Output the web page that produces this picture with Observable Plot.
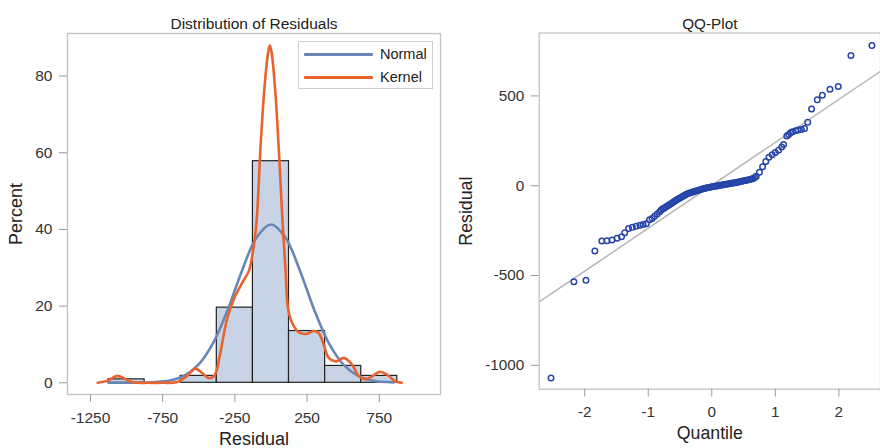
<!DOCTYPE html>
<html><head><meta charset="utf-8">
<script src="https://cdn.jsdelivr.net/npm/d3@7"></script>
<script src="https://cdn.jsdelivr.net/npm/@observablehq/plot@0.6"></script>
<style>
body{margin:0;background:#fff;}
#wrap{position:relative;width:880px;height:448px;overflow:hidden;background:#fff;font-family:"Liberation Sans",Arial,sans-serif;}
#left{position:absolute;left:0;top:0;}
#right{position:absolute;left:440px;top:0;}
#legend{position:absolute;left:298px;top:41px;width:135px;height:48px;border:1px solid #cfcfcf;background:#fff;box-sizing:border-box;}
#legend .sw{position:absolute;left:5px;width:69px;height:3px;border-radius:1px;}
#legend .lb{position:absolute;left:81px;font-size:14.5px;color:#222;line-height:16px;}
</style>
</head><body>
<div id="wrap"><div id="left"></div><div id="right"></div><div id="legend"></div></div>
<script>
// ---- Histogram of residuals (percent per bin) ----
const binLo  = [-1125, -875, -625, -375, -125, 125, 375, 625];
const binHi  = [-875, -625, -375, -125, 125, 375, 625, 875];
const binPct = [0.9, 0, 1.8, 19.6, 57.8, 13.5, 4.4, 1.8];

// ---- Fitted normal curve ----
const normalX = [-1125,-1000,-900,-800,-700,-600,-500,-400,-300,-200,-100,0,100,200,300,400,500,600,700,850];
const normalY = [0,0,0.05,0.2,0.6,1.9,4.8,10.4,19.0,29.3,37.9,41.3,37.9,29.3,19.0,10.4,4.8,1.9,0.6,0.1];

// ---- Kernel density curve ----
const kernelX = [-1200,-1135,-1065,-1005,-950,-850,-750,-650,-580,-525,-475,-430,-390,-355,-305,-255,-200,-155,-130,-100,-73,-45,-20,-8,5,30,54,80,100,120,155,200,250,295,330,365,400,450,505,560,610,655,700,755,805,860,905];
const kernelY = [0,0.5,1.8,0.9,0.1,0,0,0.2,1.8,3.7,2.5,1.2,2.0,7,16.5,22,26,29,33,42,61,77,86,88,86,76,61,42,30,19,15,13,12.8,13.5,13,10,6.5,5.6,6.5,4.8,1.7,0.9,1.7,2.9,2.1,0.4,0];

// ---- QQ plot points (normal quantile, residual) ----
const qqQuantile = [-2.53,-2.17,-1.98,-1.84,-1.73,-1.65,-1.57,-1.49,-1.42,-1.37,-1.31,-1.25,-1.19,-1.13,-1.08,-1.03,-0.98,-0.94,-0.90,-0.86,-0.82,-0.80,
  -0.775,-0.75,-0.725,-0.70,-0.675,-0.65,-0.625,-0.60,-0.575,-0.55,-0.525,-0.50,-0.475,-0.45,-0.425,-0.40,-0.375,-0.35,-0.325,-0.30,-0.275,-0.25,-0.225,-0.20,-0.175,-0.15,-0.125,-0.10,-0.075,-0.05,-0.025,
  0,0.025,0.05,0.075,0.10,0.125,0.15,0.175,0.20,0.225,0.25,0.275,0.30,0.325,0.35,0.375,0.40,0.425,0.45,0.475,0.50,0.525,0.55,0.575,0.60,0.625,0.65,0.675,0.70,
  0.75,0.80,0.85,0.90,0.95,1.00,1.05,1.10,
  1.13,1.18,1.21,1.24,1.27,1.32,1.36,1.41,1.46,1.51,1.57,1.66,1.74,1.86,1.99,2.19,2.52];
const qqResidual = [-1071,-535,-527,-363,-308,-307,-302,-293,-284,-262,-238,-232,-226,-220,-216,-212,-190,-182,-170,-157,-145,-137,
  -129,-125,-119,-113,-108,-102,-96,-90,-84,-78,-73,-68,-63,-58,-53,-48,-44,-41,-38,-35,-32,-29,-27,-24,-21,-19,-16,-14,-12,-10,-8,
  -6,-4,-3,-1,0,2,3,5,7,8,10,11,13,14,16,17,19,21,23,25,27,29,31,33,35,37,40,45,52,
  75,105,135,158,172,185,198,215,
  229,277,285,295,300,306,310,313,318,354,427,478,504,537,552,725,780];

// ---- Reference line (mean + sigma * quantile), endpoints ----
const refQuantile = [-2.717, 2.655];
const refResidual = [-647, 637];

// ---- Ticks & text ----
const histTicksX = [-1250, -750, -250, 250, 750];
const histTicksY = [0, 20, 40, 60, 80];
const qqTicksX = [-2, -1, 0, 1, 2];
const qqTicksY = [-1000, -500, 0, 500];
const titles = ["Distribution of Residuals", "QQ-Plot"];
const legendLabels = ["Normal", "Kernel"];
const colors = {bar: "#c8d4e6", normal: "#6a86b5", kernel: "#e8632f", dot: "#2544a8", ref: "#b8b8b8"};

const FONT = '"Liberation Sans", Arial, sans-serif';
const bins = binLo.map((lo, i) => ({lo, hi: binHi[i], pct: binPct[i]}));
const normal = normalX.map((x, i) => ({x, y: normalY[i]}));
const kernel = kernelX.map((x, i) => ({x, y: kernelY[i]}));
const qq = qqQuantile.map((q, i) => ({q, r: qqResidual[i]}));
const ref = refQuantile.map((q, i) => ({q, r: refResidual[i]}));
const fmt = d => String(d);

const axisCommon = {tickSize: 8, fontSize: 15.5, stroke: "#9a9a9a", fill: "#333", label: null, tickFormat: fmt};
const titleOpts = {text: d => d, frameAnchor: "top", lineAnchor: "middle", textAnchor: "middle", dy: -9.5, fontSize: 15.5, fill: "#222"};
const xLabOpts = {text: d => d, frameAnchor: "bottom", lineAnchor: "middle", textAnchor: "middle", dy: 45, fontSize: 18, fill: "#222"};
const yLabOpts = {text: d => d, frameAnchor: "left", lineAnchor: "middle", textAnchor: "middle", rotate: -90, fontSize: 18, fill: "#222"};

const left = Plot.plot({
  width: 441, height: 448,
  marginLeft: 67, marginRight: 1, marginTop: 33, marginBottom: 54,
  style: {fontFamily: FONT, background: "transparent", overflow: "visible"},
  x: {domain: [-1409, 1174]},
  y: {domain: [-3.05, 91.1]},
  marks: [
    Plot.rectY(bins, {x1: "lo", x2: "hi", y1: 0, y2: "pct", fill: colors.bar, stroke: "#222", strokeWidth: 1.2}),
    Plot.line(normal, {x: "x", y: "y", stroke: colors.normal, strokeWidth: 2.6, curve: "catmull-rom"}),
    Plot.line(kernel, {x: "x", y: "y", stroke: colors.kernel, strokeWidth: 2.6, curve: "catmull-rom"}),
    Plot.frame({stroke: "#c2c2c2", strokeWidth: 1.3}),
    Plot.axisX({...axisCommon, ticks: histTicksX, tickPadding: 9}),
    Plot.axisY({...axisCommon, ticks: histTicksY, tickPadding: 7}),
    Plot.text([titles[0]], titleOpts),
    Plot.text(["Residual"], xLabOpts),
    Plot.text(["Percent"], {...yLabOpts, dx: -51})
  ]
});
document.getElementById("left").appendChild(left);

const right = Plot.plot({
  width: 446, height: 448,
  marginLeft: 100, marginRight: 0, marginTop: 33, marginBottom: 54,
  style: {fontFamily: FONT, background: "transparent", overflow: "visible"},
  x: {domain: [-2.717, 2.655]},
  y: {domain: [-1133, 850]},
  marks: [
    Plot.line(ref, {x: "q", y: "r", stroke: colors.ref, strokeWidth: 1.6, clip: true}),
    Plot.dot(qq, {x: "q", y: "r", r: 2.8, stroke: colors.dot, strokeWidth: 1.5, fill: "none"}),
    Plot.frame({stroke: "#c2c2c2", strokeWidth: 1.3}),
    Plot.axisX({...axisCommon, ticks: qqTicksX, tickPadding: 9}),
    Plot.axisY({...axisCommon, ticks: qqTicksY, tickPadding: 7}),
    Plot.text([titles[1]], titleOpts),
    Plot.text(["Quantile"], xLabOpts),
    Plot.text(["Residual"], {...yLabOpts, dx: -74})
  ]
});
document.getElementById("right").appendChild(right);

// legend (HTML overlay)
const lg = document.getElementById("legend");
legendLabels.forEach((name, i) => {
  const sw = document.createElement("div");
  sw.className = "sw";
  sw.style.top = (11 + i * 23) + "px";
  sw.style.background = i === 0 ? colors.normal : colors.kernel;
  lg.appendChild(sw);
  const lb = document.createElement("div");
  lb.className = "lb";
  lb.style.top = (4 + i * 23) + "px";
  lb.textContent = name;
  lg.appendChild(lb);
});
</script>
</body></html>
